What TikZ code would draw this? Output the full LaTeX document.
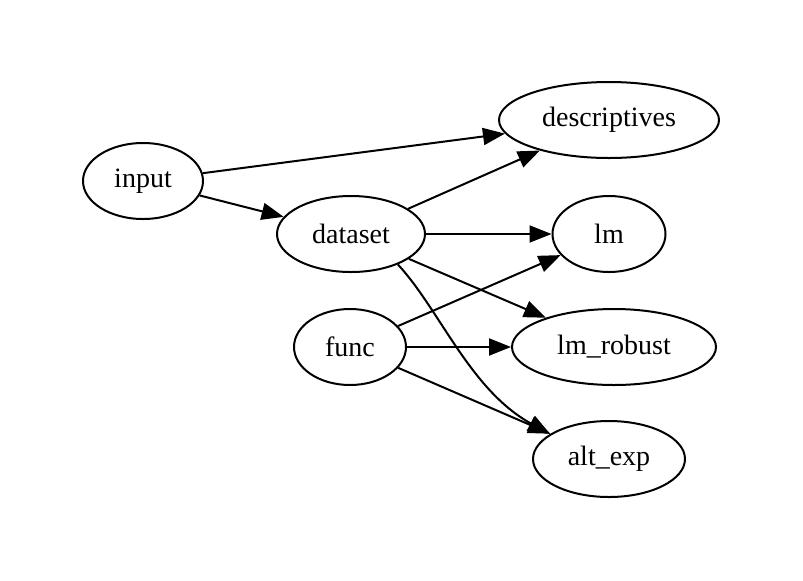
\documentclass[tikz,border=0pt]{standalone}
\usepackage{fontspec}
\setmainfont{Liberation Serif}
\usepackage{tikz}
\usetikzlibrary{shapes.geometric, arrows.meta}
\tikzset{
    every node/.style={ % Sets the properties for each job
        ellipse,
        draw,
        line width=1pt,
        minimum height=38pt,
        inner sep=0pt,
        font=\fontsize{14}{17}\selectfont
    },
    every edge/.style={ % Sets the properties for each dependency
        draw,
        -{Triangle[length=11pt,width=8.5pt]},
        line width=1pt
    }
}
\begin{document}
\begin{tikzpicture}[x=0.5pt,y=-0.5pt]
    \useasboundingbox (0,0) rectangle (803,580);
    \node[minimum width=60pt]    (input)        at (143,181) {input};
    \node[minimum width=74pt]    (dataset)      at (351,234) {dataset};
    \node[minimum width=56pt]    (func)         at (350,347) {func};
    \node[minimum width=110pt]   (descriptives) at (609,120) {descriptives};
    \node[minimum width=56.5pt]  (lm)           at (609,234) {lm};
    \node[minimum width=102pt]   (lmrobust)     at (614,347) {lm\_robust};
    \node[minimum width=76pt]    (altexp)       at (609,459) {alt\_exp};
    \draw   (input) edge (descriptives)
            (input) edge (dataset)
            (dataset) edge (descriptives)
            (dataset) edge (lm)
            (dataset) edge (lmrobust)
            (dataset.-33) edge[to path={.. controls (440,310) and (470,390) .. (\tikztotarget)}] (altexp.157)
            (func) edge (lm)
            (func) edge (lmrobust)
            (func) edge (altexp)
    ;
\end{tikzpicture}
\end{document}
